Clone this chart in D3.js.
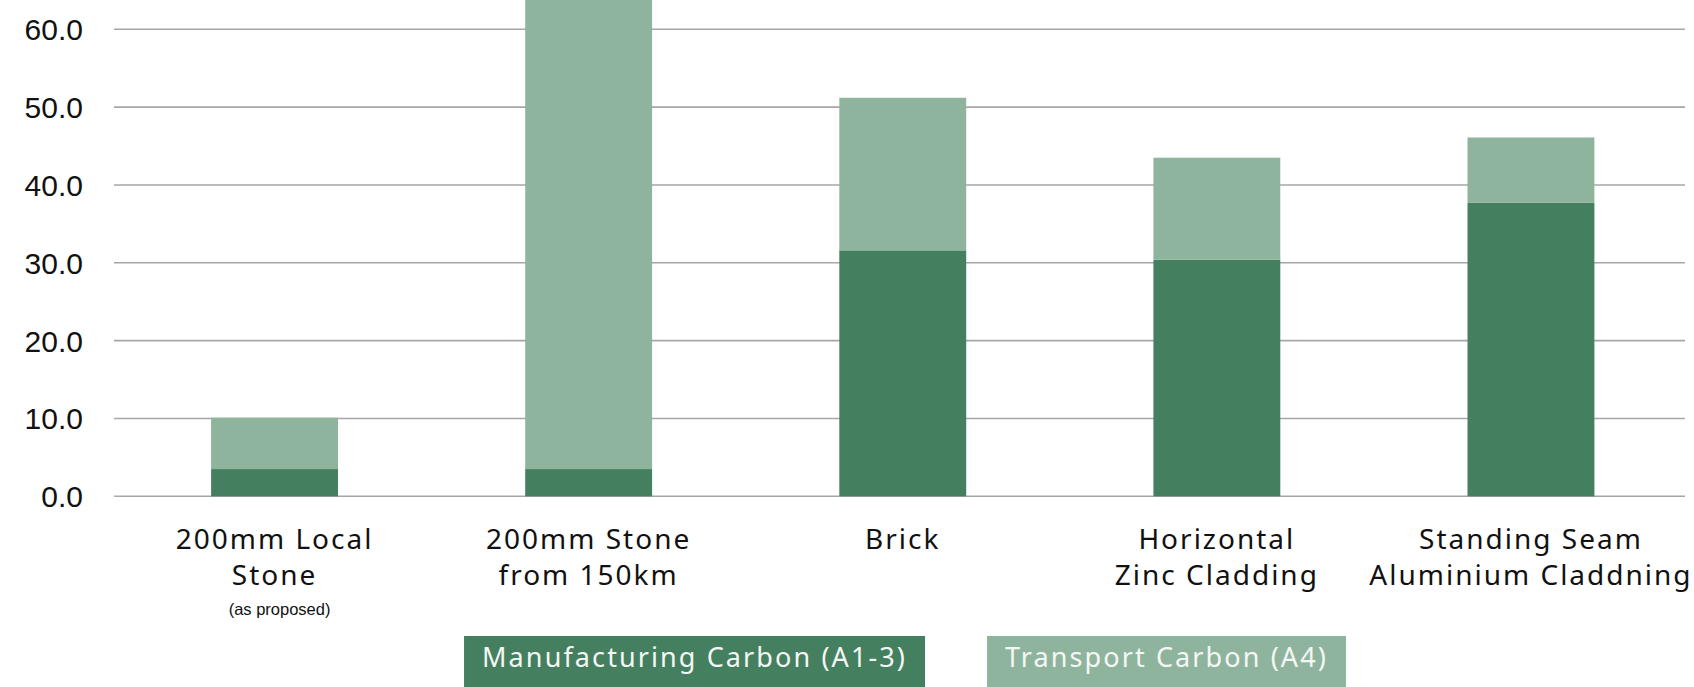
<!DOCTYPE html>
<html>
<head>
<meta charset="utf-8">
<script src="https://cdn.jsdelivr.net/npm/d3@7"></script>
<style>
  html, body { margin: 0; padding: 0; background: #ffffff; }
  svg { display: block; }
</style>
</head>
<body>
<svg id="chart" width="1694" height="687"></svg>
<script>
// Embodied carbon per cladding option (stacked: manufacturing + transport)
const categories = [
  "200mm Local\nStone",
  "200mm Stone\nfrom 150km",
  "Brick",
  "Horizontal\nZinc Cladding",
  "Standing Seam\nAluminium Claddning"
];
const categoryNotes = ["(as proposed)", "", "", "", ""];
const manufacturing = [3.5, 3.5, 31.6, 30.4, 37.7];
const transport = [6.6, 62.0, 19.6, 13.1, 8.4];
const seriesNames = ["Manufacturing Carbon (A1-3)", "Transport Carbon (A4)"];
const seriesColors = ["#44805f", "#8fb49d"];
const yTicks = [0, 10, 20, 30, 40, 50, 60];

const W = 1694, H = 687;
const svg = d3.select("#chart");

const plot = { left: 114, right: 1685 };

const x = d3.scaleBand()
  .domain(categories)
  .range([117.5, 1688])
  .paddingInner(0.596)
  .paddingOuter(0.298);

const y = d3.scaleLinear()
  .domain([0, 60])
  .range([496.3, 29.3]);

// gridlines
svg.append("g")
  .selectAll("line")
  .data(yTicks)
  .join("line")
  .attr("x1", plot.left)
  .attr("x2", plot.right)
  .attr("y1", d => y(d))
  .attr("y2", d => y(d))
  .attr("stroke", "#a6a6a6")
  .attr("stroke-width", 1.6);

// y axis tick labels
const yAxis = d3.axisLeft(y)
  .tickValues(yTicks)
  .tickFormat(d3.format(".1f"))
  .tickSize(0)
  .tickPadding(0);
const yg = svg.append("g")
  .attr("transform", "translate(83,0)")
  .call(yAxis);
yg.select(".domain").remove();
yg.selectAll("text")
  .attr("font-family", "'Liberation Sans', Arial, sans-serif")
  .attr("font-size", 30)
  .attr("fill", "#111")
  .attr("dy", "0.35em");

// stacked bars
const rows = categories.map((c, i) => ({
  cat: c,
  manufacturing: manufacturing[i],
  transport: transport[i]
}));
const stack = d3.stack().keys(["manufacturing", "transport"]);
const layers = stack(rows);

svg.append("g")
  .selectAll("g")
  .data(layers)
  .join("g")
  .attr("fill", (d, i) => seriesColors[i])
  .selectAll("rect")
  .data(d => d)
  .join("rect")
  .attr("x", d => x(d.data.cat))
  .attr("width", x.bandwidth())
  .attr("y", d => y(d[1]))
  .attr("height", d => y(d[0]) - y(d[1]));

// category labels
const labelFont = "'Noto Sans', 'Open Sans', sans-serif";
const catG = svg.append("g");
categories.forEach((c, i) => {
  const cx = x(c) + x.bandwidth() / 2;
  const lines = c.split("\n");
  const t = catG.append("text")
    .attr("x", cx)
    .attr("y", 549)
    .attr("text-anchor", "middle")
    .attr("font-family", labelFont)
    .attr("font-size", 28)
    .attr("letter-spacing", 2)
    .attr("fill", "#111");
  lines.forEach((ln, j) => {
    t.append("tspan")
      .attr("x", cx)
      .attr("y", 549 + j * 36)
      .text(ln);
  });
  if (categoryNotes[i]) {
    catG.append("text")
      .attr("x", cx + 5)
      .attr("y", 615)
      .attr("text-anchor", "middle")
      .attr("font-family", "'Liberation Sans', Arial, sans-serif")
      .attr("font-size", 16.5)
      .attr("fill", "#111")
      .text(categoryNotes[i]);
  }
});

// legend boxes
const pad = 18, gap = 62, boxTop = 636;
const legend = svg.append("g");
const items = seriesNames.map((name, i) => {
  const g = legend.append("g");
  const rect = g.append("rect").attr("fill", seriesColors[i]);
  const txt = g.append("text")
    .attr("font-family", labelFont)
    .attr("font-size", 27)
    .attr("letter-spacing", 2.1)
    .attr("fill", "#f4f7f5")
    .text(name);
  const w = txt.node().getComputedTextLength() + pad * 2;
  return { g, rect, txt, w };
});
const total = d3.sum(items, d => d.w) + gap * (items.length - 1);
let lx = 905 - total / 2;
items.forEach(it => {
  it.rect.attr("x", lx).attr("y", boxTop).attr("width", it.w).attr("height", H - boxTop);
  it.txt.attr("x", lx + pad).attr("y", 667);
  lx += it.w + gap;
});
</script>
</body>
</html>
